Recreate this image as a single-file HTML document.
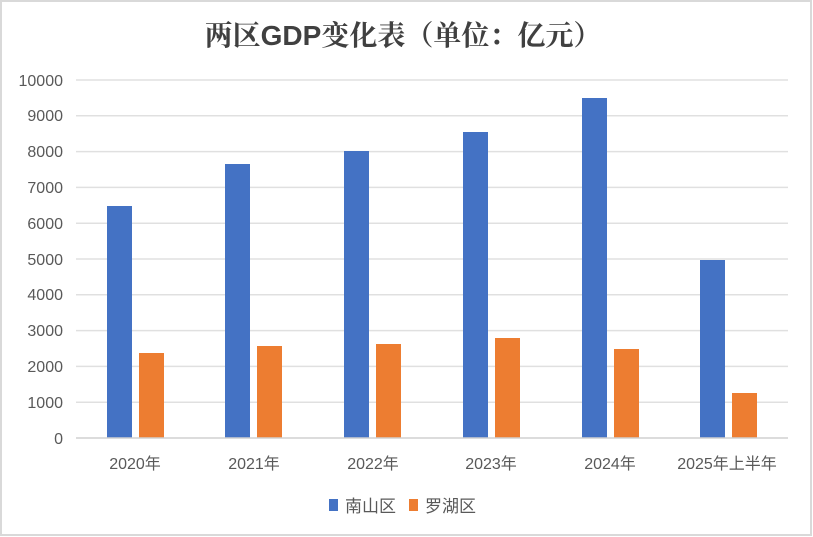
<!DOCTYPE html>
<html><head><meta charset="utf-8"><style>
html,body{margin:0;padding:0;background:#fff}
svg{display:block}
text{font-family:"Liberation Sans","Noto Sans CJK SC",sans-serif;fill:#595959}
</style></head><body>
<svg width="813" height="537" viewBox="0 0 813 537">
<rect x="1" y="1" width="810" height="534" fill="#fff" stroke="#d9d9d9" stroke-width="2"/>
<text x="403" y="45" text-anchor="middle" font-size="28" font-weight="bold" style="fill:#404040;font-family:'Noto Serif CJK SC','Noto Sans CJK SC',serif">两区<tspan style="font-family:'Liberation Sans',sans-serif">GDP</tspan>变化表（单位：亿元）</text>
<g stroke="#e0e0e0" stroke-width="1.5">
<line x1="76" x2="788" y1="80" y2="80"/><line x1="76" x2="788" y1="115.8" y2="115.8"/>
<line x1="76" x2="788" y1="151.6" y2="151.6"/><line x1="76" x2="788" y1="187.4" y2="187.4"/>
<line x1="76" x2="788" y1="223.2" y2="223.2"/><line x1="76" x2="788" y1="259" y2="259"/>
<line x1="76" x2="788" y1="294.8" y2="294.8"/><line x1="76" x2="788" y1="330.6" y2="330.6"/>
<line x1="76" x2="788" y1="366.4" y2="366.4"/><line x1="76" x2="788" y1="402.2" y2="402.2"/>
</g>
<g font-size="16" text-anchor="end">
<text x="63" y="86">10000</text><text x="63" y="121">9000</text><text x="63" y="157">8000</text>
<text x="63" y="193">7000</text><text x="63" y="229">6000</text><text x="63" y="265">5000</text>
<text x="63" y="300">4000</text><text x="63" y="336">3000</text><text x="63" y="372">2000</text>
<text x="63" y="408">1000</text><text x="63" y="444">0</text>
</g>
<g fill="#4472c4">
<rect x="107" y="206" width="25" height="232"/>
<rect x="225" y="164" width="25" height="274"/>
<rect x="344" y="151" width="25" height="287"/>
<rect x="463" y="132" width="25" height="306"/>
<rect x="582" y="98" width="25" height="340"/>
<rect x="700" y="260" width="25" height="178"/>
</g>
<g fill="#ed7d31">
<rect x="139" y="353" width="25" height="85"/>
<rect x="257" y="346" width="25" height="92"/>
<rect x="376" y="344" width="25" height="94"/>
<rect x="495" y="338" width="25" height="100"/>
<rect x="614" y="349" width="25" height="89"/>
<rect x="732" y="393" width="25" height="45"/>
</g>
<line x1="76" x2="788" y1="438" y2="438" stroke="#d0d0d0" stroke-width="1.5"/>
<g font-size="16" text-anchor="middle">
<text x="135" y="469">2020年</text><text x="254" y="469">2021年</text><text x="373" y="469">2022年</text>
<text x="491" y="469">2023年</text><text x="610" y="469">2024年</text><text x="727" y="469">2025年上半年</text>
</g>
<rect x="329" y="499" width="9" height="12" fill="#4472c4"/>
<text x="345" y="512" font-size="17">南山区</text>
<rect x="409" y="499" width="9" height="12" fill="#ed7d31"/>
<text x="425" y="512" font-size="17">罗湖区</text>
</svg>
</body></html>
